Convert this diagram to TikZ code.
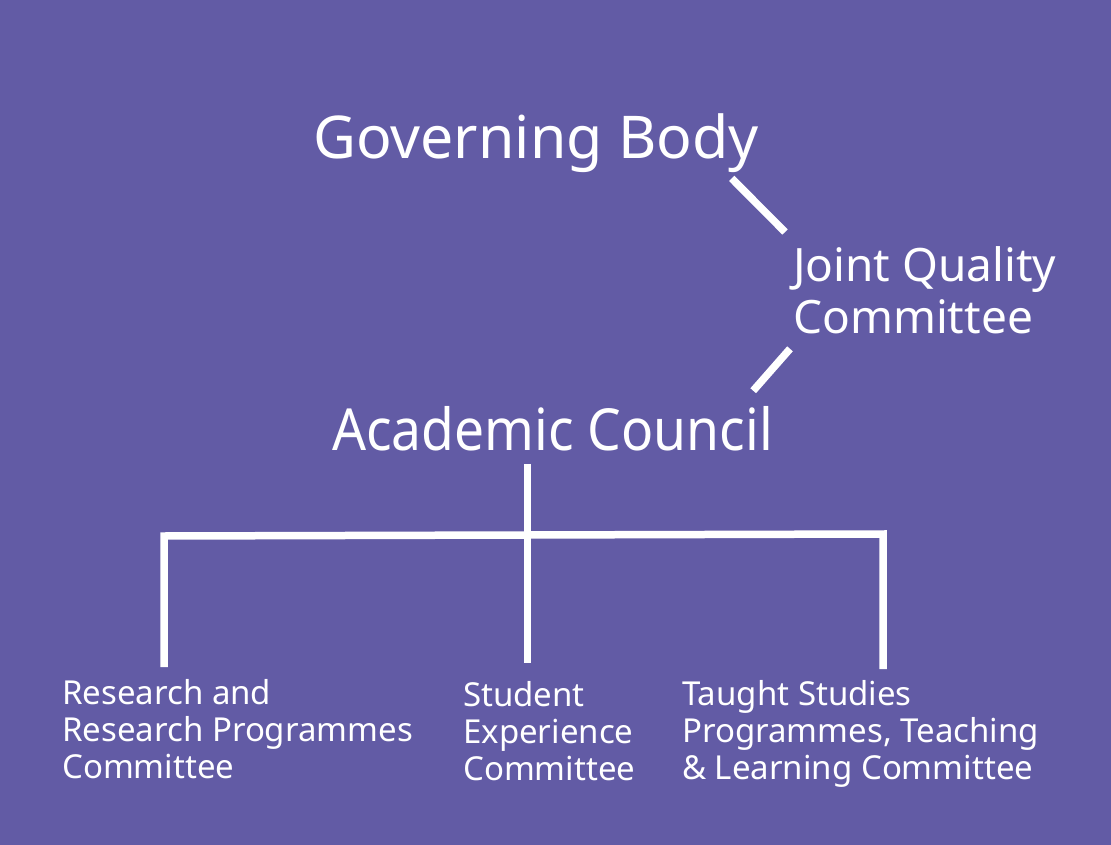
\documentclass[tikz,border=0pt]{standalone}
\usepackage{fontspec}
\setmainfont{Noto Sans}
\usepackage{xcolor}
\usepackage{tikz}
\usetikzlibrary{calc}
\definecolor{bgpurple}{HTML}{625BA5}

\begin{document}
\begin{tikzpicture}[x=1pt, y=-1pt, lbl/.style={text=white, inner sep=0pt, align=left}, big/.style={lbl, font=\fontsize{59}{70}\selectfont}, mid/.style={lbl, font=\fontsize{46}{52}\selectfont}, small/.style={lbl, font=\fontsize{33}{37}\selectfont}, link/.style={draw=white, line width=7.5pt, miter limit=10}]
	\fill[bgpurple] (0,0) rectangle (1111,845);
	\node[big, anchor=base west] (gb) at (313,159) {Governing Body};
	\node[mid, anchor=north west] (jqc) at (793,246) {Joint Quality\\Committee};
	\node[big, font=\fontsize{58}{70}\selectfont\addfontfeatures{FakeStretch=0.92}, anchor=base west] (ac) at (332,450) {Academic Council};
	\node[small, anchor=north west] (rrp) at (62,679) {Research and\\Research Programmes\\Committee};
	\node[small, anchor=north west] (sec) at (463,681) {Student\\Experience\\Committee};
	\node[small, anchor=north west] (tsp) at (682,680) {Taught Studies\\Programmes, Teaching\\\& Learning Committee};
	% links between the committees
	\draw[link] ($(gb.south east)+(-27,5)$) -- ($(jqc.north west)+(-8,-14)$);
	\draw[link] ($(jqc.south west)+(-3,15)$) -- ($(ac.north east)+(-20,-15)$);
	\coordinate (stem) at ($(ac.south)+(-25,13)$);
	\coordinate (barL) at (164,536);
	\coordinate (barR) at (883,534);
	\draw[link] ([yshift=12pt]barL |- rrp.north) -- (barL) -- (barR) -- ([yshift=11pt]barR |- tsp.north);
	\draw[link] (stem) -- ([yshift=18pt]stem |- sec.north);
\end{tikzpicture}
\end{document}
